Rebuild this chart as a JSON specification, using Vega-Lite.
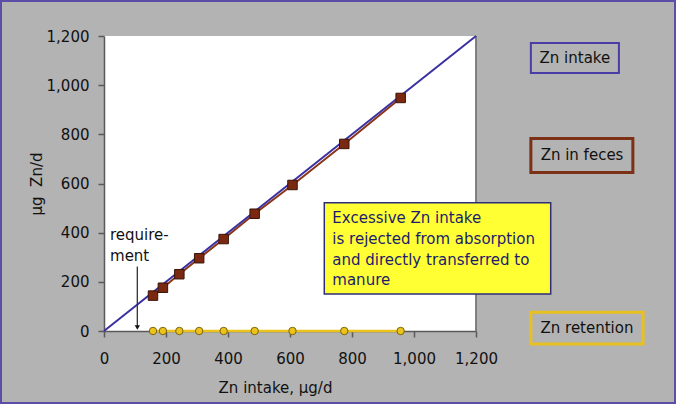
{
  "$schema": "https://vega.github.io/schema/vega-lite/v6.json",
  "width": 372,
  "height": 295,
  "autosize": {"type": "none"},
  "padding": {"left": 104, "top": 36, "right": 200, "bottom": 73},
  "background": "#b3b3b3",
  "config": {
    "view": {"fill": "white", "stroke": null},
    "font": "DejaVu Sans",
    "axis": {
      "domainColor": "#5a5a5a", "tickColor": "#5a5a5a", "domainWidth": 1.5, "tickWidth": 1.5,
      "labelColor": "#111111", "titleColor": "#111111",
      "labelFont": "DejaVu Sans", "titleFont": "DejaVu Sans",
      "labelFontSize": 15, "titleFontSize": 15, "titleFontWeight": "normal",
      "grid": false, "tickSize": 6, "labelOverlap": false, "labelFlush": false
    }
  },
  "datasets": {
    "zn": [
      {"intake": 158, "feces": 144, "retention": 0},
      {"intake": 190, "feces": 176, "retention": 0},
      {"intake": 243, "feces": 231, "retention": 0},
      {"intake": 307, "feces": 296, "retention": 0},
      {"intake": 386, "feces": 374, "retention": 0},
      {"intake": 486, "feces": 477, "retention": 0},
      {"intake": 608, "feces": 594, "retention": 0},
      {"intake": 775, "feces": 761, "retention": 0},
      {"intake": 957, "feces": 948, "retention": 0}
    ],
    "intakeLine": [
      {"intake": 0},
      {"intake": 1200}
    ]
  },
  "layer": [
    {
      "data": {"name": "intakeLine"},
      "mark": {"type": "rule", "color": "#7a7a7a", "strokeWidth": 1.5},
      "encoding": {
        "x": {"datum": 1200, "type": "quantitative", "scale": {"domain": [0, 1200], "nice": false, "zero": false}, "axis": {"values": [0, 200, 400, 600, 800, 1000, 1200], "format": ",d", "title": "Zn intake, µg/d", "labelPadding": 14, "titlePadding": 14, "titleX": 171}},
        "y": {"datum": 0, "type": "quantitative", "scale": {"domain": [0, 1200], "nice": false, "zero": false}, "axis": {"values": [0, 200, 400, 600, 800, 1000, 1200], "format": ",d", "title": "µg\u00a0\u00a0Zn/d", "labelPadding": 9, "titlePadding": 2}},
        "y2": {"datum": 1200}
      }
    },
    {
      "data": {"name": "zn"},
      "mark": {"type": "line", "color": "#8a3418", "strokeWidth": 2},
      "encoding": {
        "x": {"field": "intake", "type": "quantitative", "scale": {"domain": [0, 1200], "nice": false, "zero": false}, "axis": {"values": [0, 200, 400, 600, 800, 1000, 1200], "format": ",d", "title": "Zn intake, µg/d", "labelPadding": 14, "titlePadding": 14, "titleX": 171}},
        "y": {"field": "feces", "type": "quantitative", "scale": {"domain": [0, 1200], "nice": false, "zero": false}, "axis": {"values": [0, 200, 400, 600, 800, 1000, 1200], "format": ",d", "title": "µg\u00a0\u00a0Zn/d", "labelPadding": 9, "titlePadding": 2}}
      }
    },
    {
      "data": {"name": "intakeLine"},
      "mark": {"type": "line", "color": "#3a30a0", "strokeWidth": 2},
      "encoding": {
        "x": {"field": "intake", "type": "quantitative", "scale": {"domain": [0, 1200], "nice": false, "zero": false}, "axis": {"values": [0, 200, 400, 600, 800, 1000, 1200], "format": ",d", "title": "Zn intake, µg/d", "labelPadding": 14, "titlePadding": 14, "titleX": 171}},
        "y": {"field": "intake", "type": "quantitative", "scale": {"domain": [0, 1200], "nice": false, "zero": false}, "axis": {"values": [0, 200, 400, 600, 800, 1000, 1200], "format": ",d", "title": "µg\u00a0\u00a0Zn/d", "labelPadding": 9, "titlePadding": 2}}
      }
    },
    {
      "data": {"name": "zn"},
      "mark": {"type": "point", "shape": "square", "filled": true, "size": 90, "color": "#7a2810", "stroke": "#3a1408", "strokeWidth": 1, "opacity": 1},
      "encoding": {
        "x": {"field": "intake", "type": "quantitative", "scale": {"domain": [0, 1200], "nice": false, "zero": false}, "axis": {"values": [0, 200, 400, 600, 800, 1000, 1200], "format": ",d", "title": "Zn intake, µg/d", "labelPadding": 14, "titlePadding": 14, "titleX": 171}},
        "y": {"field": "feces", "type": "quantitative", "scale": {"domain": [0, 1200], "nice": false, "zero": false}, "axis": {"values": [0, 200, 400, 600, 800, 1000, 1200], "format": ",d", "title": "µg\u00a0\u00a0Zn/d", "labelPadding": 9, "titlePadding": 2}}
      }
    },
    {
      "data": {"name": "zn"},
      "mark": {"type": "line", "color": "#ecc31c", "strokeWidth": 2.5},
      "encoding": {
        "x": {"field": "intake", "type": "quantitative", "scale": {"domain": [0, 1200], "nice": false, "zero": false}, "axis": {"values": [0, 200, 400, 600, 800, 1000, 1200], "format": ",d", "title": "Zn intake, µg/d", "labelPadding": 14, "titlePadding": 14, "titleX": 171}},
        "y": {"field": "retention", "type": "quantitative", "scale": {"domain": [0, 1200], "nice": false, "zero": false}, "axis": {"values": [0, 200, 400, 600, 800, 1000, 1200], "format": ",d", "title": "µg\u00a0\u00a0Zn/d", "labelPadding": 9, "titlePadding": 2}}
      }
    },
    {
      "data": {"name": "zn"},
      "mark": {"type": "point", "shape": "circle", "filled": true, "size": 55, "color": "#ecc31c", "stroke": "#7a6410", "strokeWidth": 1, "opacity": 1},
      "encoding": {
        "x": {"field": "intake", "type": "quantitative", "scale": {"domain": [0, 1200], "nice": false, "zero": false}, "axis": {"values": [0, 200, 400, 600, 800, 1000, 1200], "format": ",d", "title": "Zn intake, µg/d", "labelPadding": 14, "titlePadding": 14, "titleX": 171}},
        "y": {"field": "retention", "type": "quantitative", "scale": {"domain": [0, 1200], "nice": false, "zero": false}, "axis": {"values": [0, 200, 400, 600, 800, 1000, 1200], "format": ",d", "title": "µg\u00a0\u00a0Zn/d", "labelPadding": 9, "titlePadding": 2}}
      }
    },
    {
      "data": {"name": "intakeLine"},
      "mark": {"type": "rule", "color": "#333333", "strokeWidth": 1},
      "encoding": {
        "x": {"datum": 107.5, "type": "quantitative", "scale": {"domain": [0, 1200], "nice": false, "zero": false}, "axis": {"values": [0, 200, 400, 600, 800, 1000, 1200], "format": ",d", "title": "Zn intake, µg/d", "labelPadding": 14, "titlePadding": 14, "titleX": 171}},
        "y": {"datum": 261.6, "type": "quantitative", "scale": {"domain": [0, 1200], "nice": false, "zero": false}, "axis": {"values": [0, 200, 400, 600, 800, 1000, 1200], "format": ",d", "title": "µg\u00a0\u00a0Zn/d", "labelPadding": 9, "titlePadding": 2}},
        "y2": {"datum": 20}
      }
    },
    {
      "data": {"values": [{"label": "requirement"}]},
      "mark": {"type": "point", "shape": "triangle-down", "filled": true, "size": 28, "color": "#111111", "opacity": 1},
      "encoding": {
        "x": {"datum": 107.5, "type": "quantitative", "scale": {"domain": [0, 1200], "nice": false, "zero": false}, "axis": {"values": [0, 200, 400, 600, 800, 1000, 1200], "format": ",d", "title": "Zn intake, µg/d", "labelPadding": 14, "titlePadding": 14, "titleX": 171}},
        "y": {"datum": 14, "type": "quantitative", "scale": {"domain": [0, 1200], "nice": false, "zero": false}, "axis": {"values": [0, 200, 400, 600, 800, 1000, 1200], "format": ",d", "title": "µg\u00a0\u00a0Zn/d", "labelPadding": 9, "titlePadding": 2}}
      }
    },
    {
      "data": {"values": [{"label": "requirement"}]},
      "mark": {"type": "text", "text": ["require-", "ment"], "align": "left", "baseline": "alphabetic", "lineHeight": 20.7, "fontSize": 15, "font": "DejaVu Sans", "color": "#111111"},
      "encoding": {
        "x": {"datum": 19.4, "type": "quantitative", "scale": {"domain": [0, 1200], "nice": false, "zero": false}, "axis": {"values": [0, 200, 400, 600, 800, 1000, 1200], "format": ",d", "title": "Zn intake, µg/d", "labelPadding": 14, "titlePadding": 14, "titleX": 171}},
        "y": {"datum": 370, "type": "quantitative", "scale": {"domain": [0, 1200], "nice": false, "zero": false}, "axis": {"values": [0, 200, 400, 600, 800, 1000, 1200], "format": ",d", "title": "µg\u00a0\u00a0Zn/d", "labelPadding": 9, "titlePadding": 2}}
      }
    },
    {
      "data": {"values": [{"label": "note"}]},
      "mark": {"type": "rect", "fill": "#ffff33", "stroke": "#2e2e78", "strokeWidth": 1.5},
      "encoding": {
        "x": {"datum": 710.6, "type": "quantitative", "scale": {"domain": [0, 1200], "nice": false, "zero": false}, "axis": {"values": [0, 200, 400, 600, 800, 1000, 1200], "format": ",d", "title": "Zn intake, µg/d", "labelPadding": 14, "titlePadding": 14, "titleX": 171}},
        "x2": {"datum": 1441},
        "y": {"datum": 522, "type": "quantitative", "scale": {"domain": [0, 1200], "nice": false, "zero": false}, "axis": {"values": [0, 200, 400, 600, 800, 1000, 1200], "format": ",d", "title": "µg\u00a0\u00a0Zn/d", "labelPadding": 9, "titlePadding": 2}},
        "y2": {"datum": 150.5}
      }
    },
    {
      "data": {"values": [{"label": "note"}]},
      "mark": {"type": "text", "text": ["Excessive Zn intake", "is rejected from absorption", "and directly transferred to", "manure"], "align": "left", "baseline": "alphabetic", "lineHeight": 20.6, "fontSize": 15, "font": "DejaVu Sans", "color": "#1c1c6e"},
      "encoding": {
        "x": {"datum": 736.5, "type": "quantitative", "scale": {"domain": [0, 1200], "nice": false, "zero": false}, "axis": {"values": [0, 200, 400, 600, 800, 1000, 1200], "format": ",d", "title": "Zn intake, µg/d", "labelPadding": 14, "titlePadding": 14, "titleX": 171}},
        "y": {"datum": 438, "type": "quantitative", "scale": {"domain": [0, 1200], "nice": false, "zero": false}, "axis": {"values": [0, 200, 400, 600, 800, 1000, 1200], "format": ",d", "title": "µg\u00a0\u00a0Zn/d", "labelPadding": 9, "titlePadding": 2}}
      }
    },
    {
      "data": {"values": [{"label": "Zn intake"}]},
      "mark": {"type": "rect", "fill": null, "fillOpacity": 0, "stroke": "#4a3ca6", "strokeWidth": 2},
      "encoding": {
        "x": {"datum": 1377, "type": "quantitative", "scale": {"domain": [0, 1200], "nice": false, "zero": false}, "axis": {"values": [0, 200, 400, 600, 800, 1000, 1200], "format": ",d", "title": "Zn intake, µg/d", "labelPadding": 14, "titlePadding": 14, "titleX": 171}},
        "x2": {"datum": 1661},
        "y": {"datum": 1171.5, "type": "quantitative", "scale": {"domain": [0, 1200], "nice": false, "zero": false}, "axis": {"values": [0, 200, 400, 600, 800, 1000, 1200], "format": ",d", "title": "µg\u00a0\u00a0Zn/d", "labelPadding": 9, "titlePadding": 2}},
        "y2": {"datum": 1049.5}
      }
    },
    {
      "data": {"values": [{"label": "Zn in feces"}]},
      "mark": {"type": "rect", "fill": null, "fillOpacity": 0, "stroke": "#7c3016", "strokeWidth": 3},
      "encoding": {
        "x": {"datum": 1377, "type": "quantitative", "scale": {"domain": [0, 1200], "nice": false, "zero": false}, "axis": {"values": [0, 200, 400, 600, 800, 1000, 1200], "format": ",d", "title": "Zn intake, µg/d", "labelPadding": 14, "titlePadding": 14, "titleX": 171}},
        "x2": {"datum": 1706},
        "y": {"datum": 783, "type": "quantitative", "scale": {"domain": [0, 1200], "nice": false, "zero": false}, "axis": {"values": [0, 200, 400, 600, 800, 1000, 1200], "format": ",d", "title": "µg\u00a0\u00a0Zn/d", "labelPadding": 9, "titlePadding": 2}},
        "y2": {"datum": 645}
      }
    },
    {
      "data": {"values": [{"label": "Zn retention"}]},
      "mark": {"type": "rect", "fill": null, "fillOpacity": 0, "stroke": "#e8c020", "strokeWidth": 3},
      "encoding": {
        "x": {"datum": 1377, "type": "quantitative", "scale": {"domain": [0, 1200], "nice": false, "zero": false}, "axis": {"values": [0, 200, 400, 600, 800, 1000, 1200], "format": ",d", "title": "Zn intake, µg/d", "labelPadding": 14, "titlePadding": 14, "titleX": 171}},
        "x2": {"datum": 1739},
        "y": {"datum": 76, "type": "quantitative", "scale": {"domain": [0, 1200], "nice": false, "zero": false}, "axis": {"values": [0, 200, 400, 600, 800, 1000, 1200], "format": ",d", "title": "µg\u00a0\u00a0Zn/d", "labelPadding": 9, "titlePadding": 2}},
        "y2": {"datum": -53}
      }
    },
    {
      "data": {"values": [{"label": "Zn intake"}]},
      "mark": {"type": "text", "align": "center", "baseline": "middle", "fontSize": 15, "font": "DejaVu Sans", "color": "#111111"},
      "encoding": {
        "text": {"field": "label"},
        "x": {"datum": 1519, "type": "quantitative", "scale": {"domain": [0, 1200], "nice": false, "zero": false}, "axis": {"values": [0, 200, 400, 600, 800, 1000, 1200], "format": ",d", "title": "Zn intake, µg/d", "labelPadding": 14, "titlePadding": 14, "titleX": 171}},
        "y": {"datum": 1110.5, "type": "quantitative", "scale": {"domain": [0, 1200], "nice": false, "zero": false}, "axis": {"values": [0, 200, 400, 600, 800, 1000, 1200], "format": ",d", "title": "µg\u00a0\u00a0Zn/d", "labelPadding": 9, "titlePadding": 2}}
      }
    },
    {
      "data": {"values": [{"label": "Zn in feces"}]},
      "mark": {"type": "text", "align": "center", "baseline": "middle", "fontSize": 15, "font": "DejaVu Sans", "color": "#111111"},
      "encoding": {
        "text": {"field": "label"},
        "x": {"datum": 1542, "type": "quantitative", "scale": {"domain": [0, 1200], "nice": false, "zero": false}, "axis": {"values": [0, 200, 400, 600, 800, 1000, 1200], "format": ",d", "title": "Zn intake, µg/d", "labelPadding": 14, "titlePadding": 14, "titleX": 171}},
        "y": {"datum": 714, "type": "quantitative", "scale": {"domain": [0, 1200], "nice": false, "zero": false}, "axis": {"values": [0, 200, 400, 600, 800, 1000, 1200], "format": ",d", "title": "µg\u00a0\u00a0Zn/d", "labelPadding": 9, "titlePadding": 2}}
      }
    },
    {
      "data": {"values": [{"label": "Zn retention"}]},
      "mark": {"type": "text", "align": "center", "baseline": "middle", "fontSize": 15, "font": "DejaVu Sans", "color": "#111111"},
      "encoding": {
        "text": {"field": "label"},
        "x": {"datum": 1558, "type": "quantitative", "scale": {"domain": [0, 1200], "nice": false, "zero": false}, "axis": {"values": [0, 200, 400, 600, 800, 1000, 1200], "format": ",d", "title": "Zn intake, µg/d", "labelPadding": 14, "titlePadding": 14, "titleX": 171}},
        "y": {"datum": 12, "type": "quantitative", "scale": {"domain": [0, 1200], "nice": false, "zero": false}, "axis": {"values": [0, 200, 400, 600, 800, 1000, 1200], "format": ",d", "title": "µg\u00a0\u00a0Zn/d", "labelPadding": 9, "titlePadding": 2}}
      }
    },
    {
      "data": {"values": [{"label": "frame"}]},
      "mark": {"type": "rect", "fill": null, "fillOpacity": 0, "stroke": "#5b4ea6", "strokeWidth": 4},
      "encoding": {
        "x": {"datum": -335.5, "type": "quantitative", "scale": {"domain": [0, 1200], "nice": false, "zero": false}, "axis": {"values": [0, 200, 400, 600, 800, 1000, 1200], "format": ",d", "title": "Zn intake, µg/d", "labelPadding": 14, "titlePadding": 14, "titleX": 171}},
        "x2": {"datum": 1845.2},
        "y": {"datum": 1346.4, "type": "quantitative", "scale": {"domain": [0, 1200], "nice": false, "zero": false}, "axis": {"values": [0, 200, 400, 600, 800, 1000, 1200], "format": ",d", "title": "µg\u00a0\u00a0Zn/d", "labelPadding": 9, "titlePadding": 2}},
        "y2": {"datum": -297}
      }
    }
  ]
}
